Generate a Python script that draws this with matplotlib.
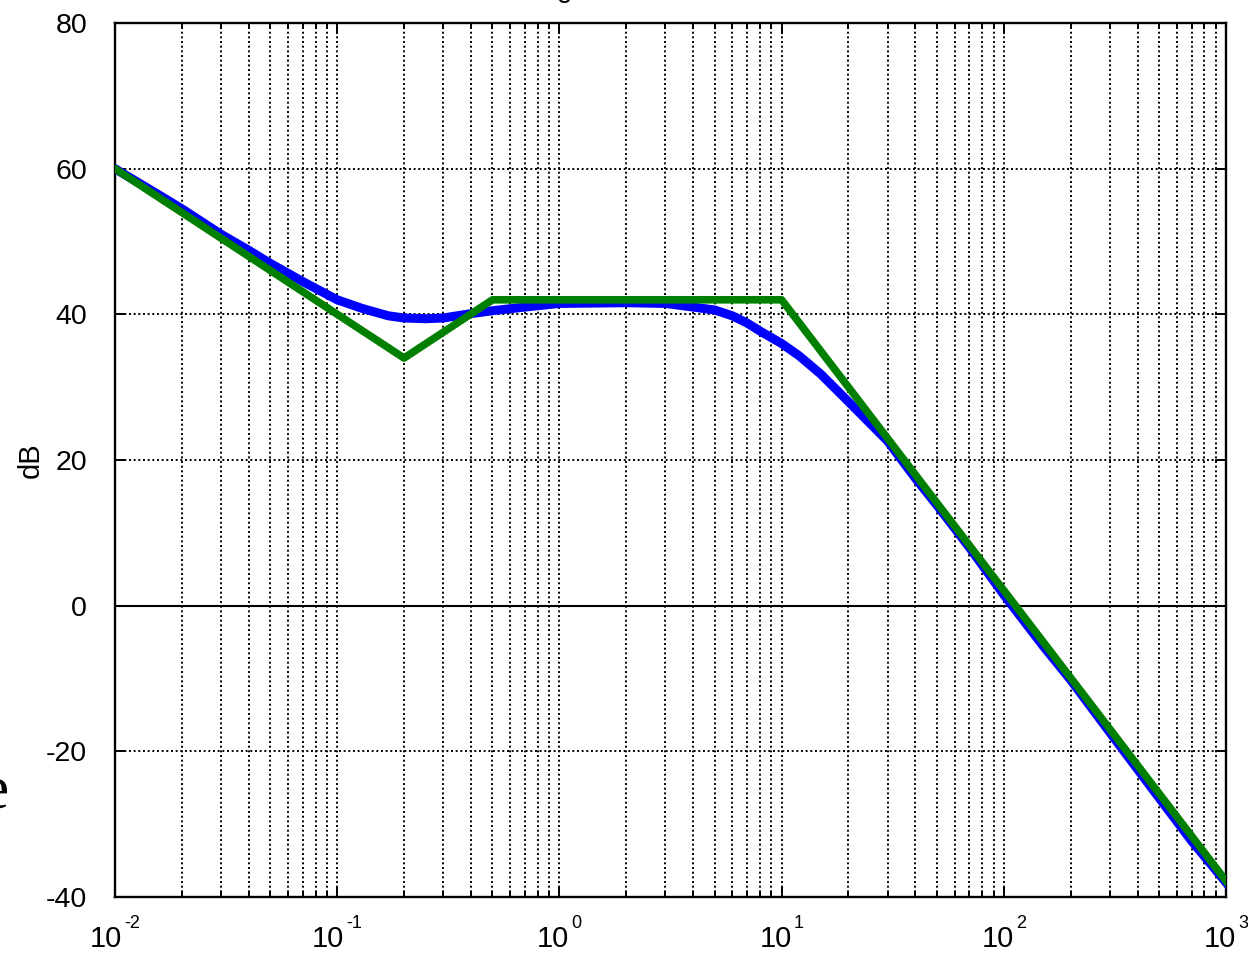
import numpy as np
import matplotlib
matplotlib.use("Agg")
import matplotlib.pyplot as plt
from matplotlib.ticker import LogLocator, FixedLocator, NullFormatter

plt.rcParams['font.family'] = ['Liberation Sans', 'DejaVu Sans']
plt.rcParams['axes.unicode_minus'] = False

w_mag = [0.01, 0.015, 0.02, 0.03, 0.04, 0.05, 0.07, 0.1, 0.13, 0.17, 0.2, 0.25,
         0.3, 0.4, 0.5, 0.7, 1.0, 2.0, 3.0, 4.0, 5.0, 6.0, 7.0, 8.0, 10.0, 12.0,
         15.0, 20.0, 30.0, 40.0, 50.0, 70.0, 100.0, 150.0, 200.0, 300.0, 500.0,
         700.0, 1000.0]
db_mag = [60.0, 56.8, 54.5, 51.0, 48.8, 47.0, 44.5, 42.0, 40.8, 39.8, 39.5, 39.4,
          39.5, 40.1, 40.5, 41.0, 41.5, 41.6, 41.5, 41.0, 40.6, 39.8, 38.8, 37.7,
          36.0, 34.3, 31.8, 28.0, 22.6, 17.5, 13.8, 8.0, 1.5, -5.5, -10.2, -17.4,
          -26.4, -32.3, -38.0]

# straight-line asymptote
w_asym = [0.01, 0.2, 0.5, 10.0, 1000.0]
db_asym = [60.0, 34.0, 42.0, 42.0, -37.8]

xticks = [1e-2, 1e-1, 1e0, 1e1, 1e2, 1e3]
yticks = [-40, -20, 0, 20, 40, 60, 80]

fig = plt.figure(figsize=(12.48, 9.55), dpi=100)
ax = fig.add_axes([0.0921, 0.0607, 0.8903, 0.9152])

ax.axhline(0, color='black', lw=1.5, zorder=2)
ax.plot(w_mag, db_mag, color='#0000ff', lw=6.5, zorder=3)
ax.plot(w_asym, db_asym, color='#007f00', lw=5.5, zorder=4)

ax.set_xscale('log')
ax.set_xlim(1e-2, 1e3)
ax.set_ylim(-40, 80)
ax.set_yticks(yticks)
ax.xaxis.set_major_locator(FixedLocator(xticks))
ax.xaxis.set_minor_locator(LogLocator(base=10, subs=np.arange(2, 10), numticks=20))
ax.xaxis.set_major_formatter(NullFormatter())
ax.xaxis.set_minor_formatter(NullFormatter())

dots = (0, (1, 1.4))
ax.grid(True, which='major', color='black', ls=dots, lw=1.4)
ax.grid(True, which='minor', axis='x', color='black', ls=dots, lw=1.4)

ax.tick_params(which='both', direction='in', top=True, right=True, width=1.4)
ax.tick_params(which='major', length=8)
ax.tick_params(which='minor', length=4)
ax.tick_params(axis='y', labelsize=20.5, pad=20)
for s in ax.spines.values():
    s.set_linewidth(1.7)

ax.set_ylabel('dB', fontsize=21)
ax.yaxis.set_label_coords(-0.063, 0.5)

# x tick labels: "10" with a small raised exponent, centred on the tick
renderer = fig.canvas.get_renderer()
for v in xticks:
    kw = dict(xy=(v, 0), xycoords=('data', 'axes fraction'),
              textcoords='offset pixels', ha='left', va='baseline',
              annotation_clip=False)
    base = ax.annotate('10', xytext=(0, -50), fontsize=21, **kw)
    expo = ax.annotate(str(int(round(np.log10(v)))), xytext=(0, -31),
                       fontsize=13, **kw)
    w1 = base.get_window_extent(renderer).width
    w2 = expo.get_window_extent(renderer).width
    start = -(w1 + 2 + w2) / 2
    base.xyann = (start, -50)
    expo.xyann = (start + w1 + 2, -31)

# clipped fragments of text at the figure edges
fig.text(565 / 1248, 1.003, 'g', fontsize=20, ha='center', va='baseline')
fig.text(9 / 1248, 1 - 808 / 955, 'e', fontsize=44, family='Liberation Serif',
         ha='right', va='baseline')

fig.savefig('out.png', dpi=100)
